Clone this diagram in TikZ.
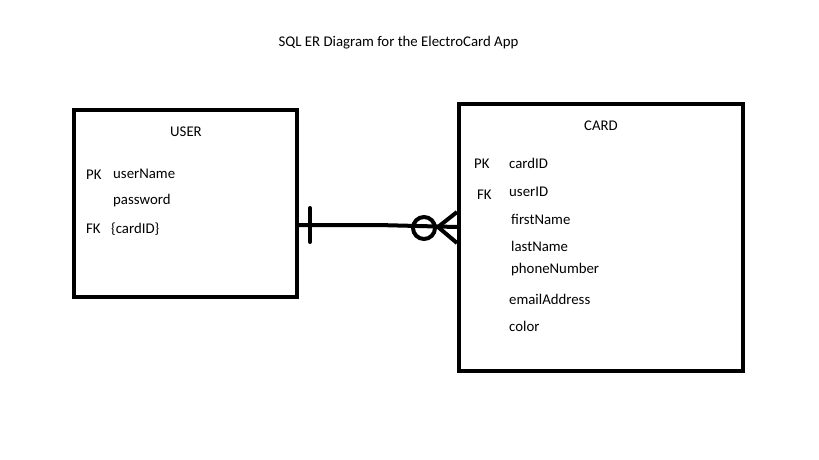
\documentclass[tikz,border=0pt]{standalone}
\usepackage{fontspec}
\setmainfont{Carlito}
\begin{document}
\begin{tikzpicture}[x=1pt,y=-1pt,
  ent/.style={draw=black,line width=4pt,inner sep=0pt},
  txt/.style={inner sep=0pt,anchor=west,yshift=-1pt,font=\fontsize{14.8}{17}\selectfont},
  ttl/.style={inner sep=0pt,yshift=-1pt,font=\fontsize{14.8}{17}\selectfont},
  conn/.style={line width=4pt}]
\useasboundingbox (0,0) rectangle (819,460);
\node[ttl] (title) at (398.5,42) {SQL ER Diagram for the ElectroCard App};
\node[ent,minimum width=223pt,minimum height=187pt] (user) at (185.5,203.5) {};
\node[ent,minimum width=284pt,minimum height=267pt] (card) at (601,237.5) {};
\node[ttl] (ut) at (186,131) {USER};
\node[txt] (upk) at (86,174) {PK};
\node[txt] (u1) at (113,173) {userName};
\node[txt] (u2) at (113,200) {password};
\node[txt] (ufk) at (86,228) {FK};
\node[txt] (u3) at (111,228) {\{cardID\}};
\node[ttl] (ct) at (601,125) {CARD};
\node[txt] (cpk) at (474,163) {PK};
\node[txt] (c1) at (509,162) {cardID};
\node[txt] (cfk) at (477,194) {FK};
\node[txt] (c2) at (509,191) {userID};
\node[txt] (c3) at (511,218) {firstName};
\node[txt] (c4) at (511,245) {lastName};
\node[txt] (c5) at (511,269) {phoneNumber};
\node[txt] (c6) at (509,298) {emailAddress};
\node[txt] (c7) at (509,325) {color};
\coordinate (ua) at (user.east |- 0,225);
\coordinate (cb) at (card.west |- 0,227);
\coordinate (mid) at (378,225);
\draw[conn] (ua) -- (mid) -- (cb);
\draw[conn,line cap=round] (310,208) -- (310,242);
\draw[conn] (424,228) circle (11);
\draw[conn] (cb |- 0,212) -- (438,227) -- (cb |- 0,243);
\end{tikzpicture}
\end{document}
